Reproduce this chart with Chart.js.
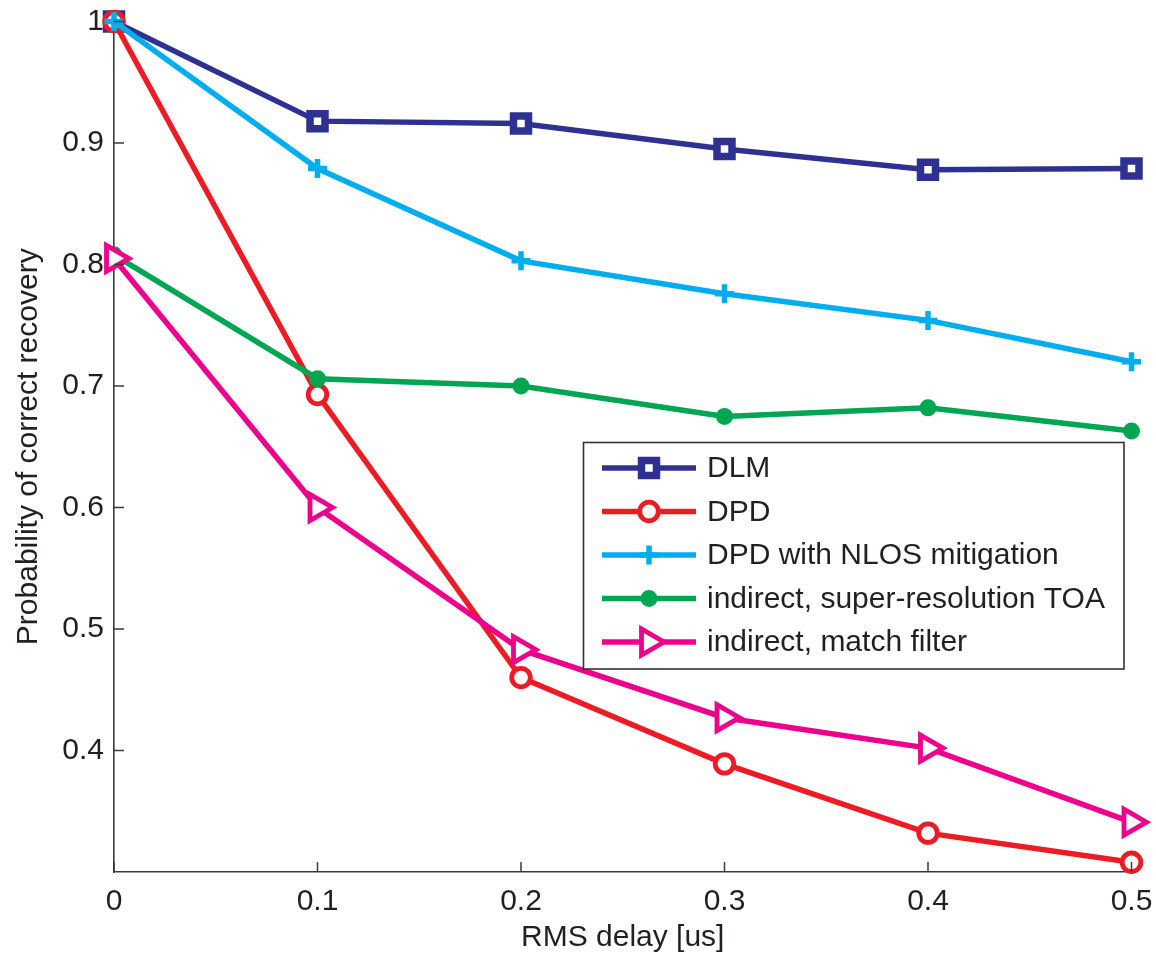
<!DOCTYPE html>
<html>
<head>
<meta charset="utf-8">
<script src="https://cdn.jsdelivr.net/npm/chart.js@4/dist/chart.umd.min.js"></script>
<style>
  html, body { margin: 0; padding: 0; background: #fff; }
  #wrap { width: 1156px; height: 956px; }
</style>
</head>
<body>
<div id="wrap"><canvas id="c" width="1156" height="956"></canvas></div>
<script>
// ---- data ----
const rmsDelay = [0, 0.1, 0.2, 0.3, 0.4, 0.5];
const dlm      = [1.000, 0.918, 0.916, 0.895, 0.878, 0.879];
const dpd      = [1.000, 0.693, 0.460, 0.389, 0.332, 0.308];
const dpdNlos  = [1.000, 0.879, 0.803, 0.776, 0.754, 0.720];
const superRes = [0.808, 0.706, 0.700, 0.675, 0.682, 0.663];
const matchFlt = [0.805, 0.600, 0.483, 0.427, 0.402, 0.341];
const seriesLabels = ['DLM', 'DPD', 'DPD with NLOS mitigation', 'indirect, super-resolution TOA', 'indirect, match filter'];
const xTicks = [0, 0.1, 0.2, 0.3, 0.4, 0.5];
const yTicks = [0.4, 0.5, 0.6, 0.7, 0.8, 0.9, 1.0];

const FONT = '"Liberation Sans", Arial, Helvetica, sans-serif';
const TXT = '#231f20';
const AX = '#3a3a3a';
const LINE_W = 5.5;

const styles = [
  { color: '#2e3192', pointStyle: 'rect',     radius: 10.6, bw: 7.5, bg: '#ffffff', rot: 0 },
  { color: '#ed1c24', pointStyle: 'circle',   radius: 9.3,  bw: 4.8, bg: '#ffffff', rot: 0 },
  { color: '#00aeef', pointStyle: 'cross',    radius: 9.5,  bw: 5.5, bg: '#00aeef', rot: 0 },
  { color: '#00a651', pointStyle: 'circle',   radius: 7.5,  bw: 2,   bg: '#00a651', rot: 0 },
  { color: '#ec008c', pointStyle: 'triangle', radius: 15,   bw: 4.8, bg: '#ffffff', rot: 90 }
];
const seriesValues = [dlm, dpd, dpdNlos, superRes, matchFlt];

const datasets = seriesValues.map((vals, i) => {
  const s = styles[i];
  return {
    label: seriesLabels[i],
    data: rmsDelay.map((x, k) => ({ x: x, y: vals[k] })),
    borderColor: s.color,
    backgroundColor: s.color,
    borderWidth: LINE_W,
    pointStyle: s.pointStyle,
    pointRadius: s.radius,
    pointBorderWidth: s.bw,
    pointBackgroundColor: s.bg,
    pointBorderColor: s.color,
    pointRotation: s.rot,
    pointHoverRadius: s.radius,
    tension: 0,
    clip: false,
    order: seriesValues.length - i
  };
});

// inward tick marks (MATLAB style)
const inwardTicks = {
  id: 'inwardTicks',
  afterDatasetsDraw(chart) {
    const { ctx, chartArea, scales } = chart;
    ctx.save();
    ctx.strokeStyle = AX;
    ctx.lineWidth = 1.5;
    xTicks.forEach(v => {
      const px = scales.x.getPixelForValue(v);
      ctx.beginPath(); ctx.moveTo(px, chartArea.bottom); ctx.lineTo(px, chartArea.bottom - 10); ctx.stroke();
    });
    yTicks.forEach(v => {
      const py = scales.y.getPixelForValue(v);
      ctx.beginPath(); ctx.moveTo(chartArea.left, py); ctx.lineTo(chartArea.left + 10, py); ctx.stroke();
    });
    ctx.restore();
  }
};

// legend box inside the plot
const innerLegend = {
  id: 'innerLegend',
  afterDraw(chart) {
    const { ctx } = chart;
    const box = { x: 583.5, y: 442.5, w: 540.5, h: 226.5 };
    ctx.save();
    ctx.fillStyle = '#ffffff';
    ctx.fillRect(box.x, box.y, box.w, box.h);
    ctx.strokeStyle = '#333333';
    ctx.lineWidth = 1.6;
    ctx.strokeRect(box.x, box.y, box.w, box.h);
    const rowY0 = 468, rowDy = 43.5;
    chart.data.datasets.forEach((ds, i) => {
      const s = styles[i];
      const y = rowY0 + i * rowDy;
      ctx.strokeStyle = s.color;
      ctx.lineWidth = LINE_W;
      ctx.beginPath(); ctx.moveTo(602, y); ctx.lineTo(696, y); ctx.stroke();
      ctx.fillStyle = s.bg;
      ctx.strokeStyle = s.color;
      ctx.lineWidth = s.bw;
      Chart.helpers.drawPoint(ctx, { pointStyle: s.pointStyle, radius: s.radius, rotation: s.rot, borderWidth: s.bw }, 649, y);
      ctx.fillStyle = TXT;
      ctx.font = '30px ' + FONT;
      ctx.textBaseline = 'middle';
      ctx.textAlign = 'left';
      ctx.fillText(ds.label, 707, y + 1);
    });
    ctx.restore();
  }
};

function fmtX(v) {
  return String(Math.round(v * 10) / 10);
}
function fmtY(v) {
  if (Math.abs(v - 0.3) < 1e-6) return '';
  return String(Math.round(v * 10) / 10);
}

new Chart(document.getElementById('c'), {
  type: 'line',
  data: { datasets: datasets },
  options: {
    responsive: false,
    devicePixelRatio: 1,
    animation: false,
    events: [],
    layout: { padding: { top: 21.5, right: 24.5, bottom: 0, left: 0 } },
    plugins: { legend: { display: false }, tooltip: { enabled: false }, title: { display: false } },
    scales: {
      x: {
        type: 'linear',
        min: 0, max: 0.5,
        afterFit(s) { s.height = 84; s.paddingLeft = 0; s.paddingRight = 0; },
        afterBuildTicks(s) { s.ticks = xTicks.map(v => ({ value: v })); },
        grid: { display: false, drawTicks: false },
        border: { display: true, color: AX, width: 1.6 },
        ticks: { padding: 12, color: TXT, font: { family: FONT, size: 30, lineHeight: 1.2 }, maxRotation: 0, autoSkip: false, callback: v => fmtX(v) },
        title: { display: true, text: 'RMS delay [us]', color: TXT, font: { family: FONT, size: 30, lineHeight: 1 }, padding: { top: 0, bottom: 3 } }
      },
      y: {
        type: 'linear',
        min: 0.3, max: 1.0,
        afterFit(s) { s.width = 114; s.paddingTop = 0; s.paddingBottom = 0; },
        afterBuildTicks(s) { s.ticks = [0.3].concat(yTicks).map(v => ({ value: v })); },
        grid: { display: false, drawTicks: false },
        border: { display: true, color: AX, width: 1.6 },
        ticks: { padding: 10, color: TXT, font: { family: FONT, size: 30, lineHeight: 1.2 }, autoSkip: false, callback: v => fmtY(v) },
        title: { display: true, text: 'Probability of correct recovery', color: TXT, font: { family: FONT, size: 30, lineHeight: 1 }, padding: { top: 14, bottom: 0 } }
      }
    }
  },
  plugins: [inwardTicks, innerLegend]
});
</script>
</body>
</html>
